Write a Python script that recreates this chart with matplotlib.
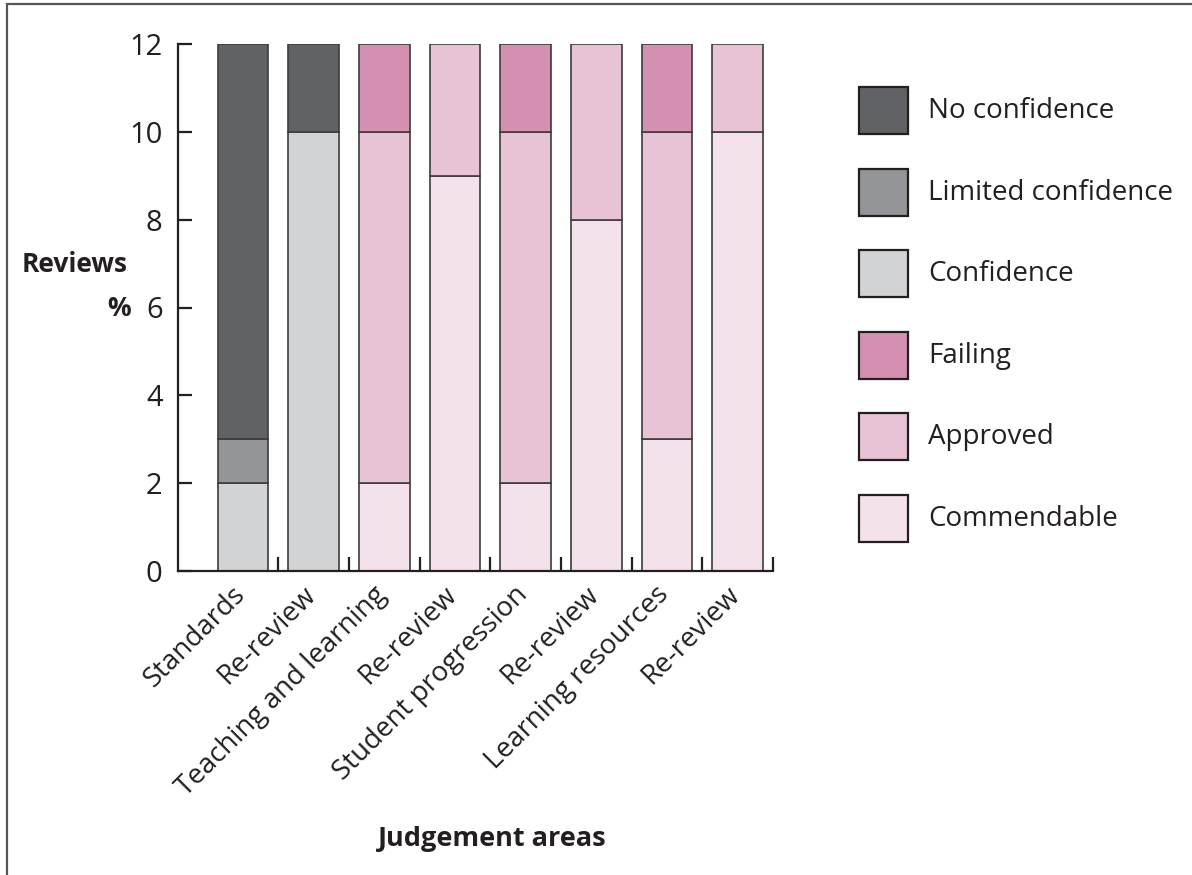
import numpy as np
import matplotlib
matplotlib.use('Agg')
import matplotlib.pyplot as plt
from matplotlib.patches import Rectangle
from matplotlib.transforms import ScaledTranslation

plt.rcParams['font.family'] = ['Open Sans', 'DejaVu Sans']

# Data
categories = ['Standards', 'Re-review', 'Teaching and learning', 'Re-review',
              'Student progression', 'Re-review', 'Learning resources', 'Re-review']
commendable = [0, 0, 2, 9, 2, 8, 3, 10]
approved = [0, 0, 8, 3, 8, 4, 7, 2]
failing = [0, 0, 2, 0, 2, 0, 2, 0]
confidence = [2, 10, 0, 0, 0, 0, 0, 0]
limited_confidence = [1, 0, 0, 0, 0, 0, 0, 0]
no_confidence = [9, 2, 0, 0, 0, 0, 0, 0]

series = [
    ('Commendable', commendable, '#f3e2ec'),
    ('Approved', approved, '#e8c2d5'),
    ('Failing', failing, '#d490b0'),
    ('Confidence', confidence, '#d1d3d4'),
    ('Limited confidence', limited_confidence, '#939598'),
    ('No confidence', no_confidence, '#616265'),
]
legend_order = ['No confidence', 'Limited confidence', 'Confidence',
                'Failing', 'Approved', 'Commendable']

W, H = 1192, 875
fig = plt.figure(figsize=(W / 100, H / 100), dpi=100)
ax = fig.add_axes([178 / W, 1 - 571 / H, (773 - 178) / W, (571 - 44) / H])

x = np.arange(len(categories))
bottom = np.zeros(len(categories))
colors = {}
for name, vals, col in series:
    vals = np.array(vals, dtype=float)
    m = vals > 0
    ax.bar(x[m], vals[m], bottom=bottom[m], width=0.72, color=col,
           edgecolor='#3c3c3c', linewidth=1.2, zorder=2)
    bottom += vals
    colors[name] = col

ax.set_xlim(-0.92, 7.5)
ax.set_ylim(0, 12)
ax.set_yticks(range(0, 13, 2))
ax.spines['top'].set_visible(False)
ax.spines['right'].set_visible(False)
for s in ['left', 'bottom']:
    ax.spines[s].set_linewidth(1.6)
    ax.spines[s].set_color('#231f20')

ax.tick_params(axis='y', direction='in', length=10, width=1.6, pad=11,
               labelsize=21, colors='#231f20')
ax.set_xticks(x)
ax.set_xticklabels(categories, rotation=45, ha='right', va='top',
                   rotation_mode='anchor', fontsize=20, color='#231f20')
ax.tick_params(axis='x', which='major', length=0, pad=7)
ax.set_xticks(np.arange(0.5, 8, 1), minor=True)
ax.tick_params(axis='x', which='minor', direction='in', length=10, width=1.6,
               color='#231f20')
shift = ScaledTranslation(-12 / 100, 0, fig.dpi_scale_trans)
for lab in ax.get_xticklabels():
    lab.set_transform(lab.get_transform() + shift)

# Axis titles
fig.text(22 / W, 1 - 264 / H, 'Reviews', fontsize=19, fontweight='bold',
         ha='left', va='center', color='#231f20')
fig.text(131 / W, 1 - 308 / H, '%', fontsize=19, fontweight='bold',
         ha='right', va='center', color='#231f20')
fig.text(492 / W, 1 - 839 / H, 'Judgement areas', fontsize=19.5,
         fontweight='bold', ha='center', va='center', color='#231f20')

# Legend, drawn as boxes and labels
for i, name in enumerate(legend_order):
    top = 87 + i * 81.6
    fig.add_artist(Rectangle((859 / W, 1 - (top + 47) / H), 49 / W, 47 / H,
                             transform=fig.transFigure, facecolor=colors[name],
                             edgecolor='#231f20', linewidth=1.6))
    fig.text(928 / W, 1 - (top + 24) / H, name, fontsize=20, ha='left',
             va='center', color='#231f20')

# Outer frame (only top and left visible)
fig.add_artist(Rectangle((7 / W, -0.1), 1.2, 1 - 4 / H + 0.1,
                         transform=fig.transFigure, fill=False,
                         edgecolor='#555555', linewidth=1.6))

fig.savefig('out.png', dpi=100)
